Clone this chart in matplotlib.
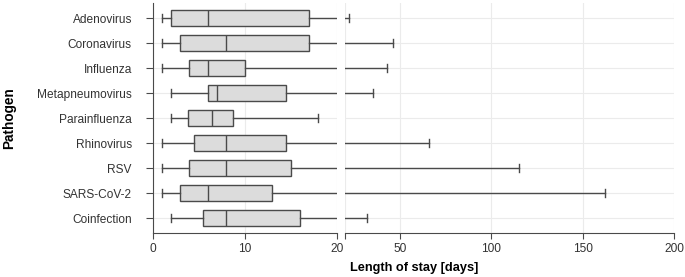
import matplotlib
matplotlib.use('Agg')
import matplotlib.pyplot as plt

plt.rcParams['font.family'] = ['Liberation Sans', 'DejaVu Sans']

# ── 데이터: 병원체별 재원일수 분포 ─────────────────────────
pathogens = ['Adenovirus', 'Coronavirus', 'Influenza', 'Metapneumovirus',
             'Parainfluenza', 'Rhinovirus', 'RSV', 'SARS-CoV-2', 'Coinfection']
whisker_lo = [1, 1, 1, 2, 2, 1, 1, 1, 2]
q1         = [2, 3, 4, 6, 3.8, 4.5, 4, 3, 5.5]
median     = [6, 8, 6, 7, 6.5, 8, 8, 6, 8]
q3         = [17, 17, 10, 14.5, 8.75, 14.5, 15, 13, 16]
whisker_hi = [22, 46, 43, 35, 18, 66, 115, 162, 32]

left_ticks  = [0, 10, 20]
right_ticks = [20, 50, 100, 150, 200]

stats = [dict(label=p, whislo=lo, q1=a, med=m, q3=b, whishi=hi)
         for p, lo, a, m, b, hi in zip(pathogens, whisker_lo, q1, median, q3, whisker_hi)]
positions = list(range(len(pathogens), 0, -1))   # 위에서부터 Adenovirus

fig = plt.figure(figsize=(6.85, 2.77), dpi=100)
ax_l = fig.add_axes([0.2229, 0.158, 0.2686, 0.831])
ax_r = fig.add_axes([0.5038, 0.158, 0.4806, 0.831])

edge = '#4a4a4a'
grid = '#ebebeb'

for ax in (ax_l, ax_r):
    ax.bxp(stats, positions=positions, orientation='horizontal',
           widths=0.64, capwidths=0.3, showfliers=False, patch_artist=True,
           boxprops=dict(facecolor='#dcdcdc', edgecolor=edge, linewidth=1.0),
           medianprops=dict(color=edge, linewidth=1.0),
           whiskerprops=dict(color=edge, linewidth=1.0),
           capprops=dict(color=edge, linewidth=1.0))
    ax.set_ylim(0.4, len(pathogens) + 0.6)
    ax.set_axisbelow(True)
    ax.grid(True, color=grid, linewidth=0.8)
    for s in ('top', 'right'):
        ax.spines[s].set_visible(False)
    ax.spines['bottom'].set_color(edge)
    ax.tick_params(axis='x', length=4, color=edge, labelsize=8.6,
                   labelcolor='#333333', pad=3)

# ── 왼쪽 패널: 0–20일 ───────────────────────────────────────────
ax_l.set_xlim(0, 20)
ax_l.set_xticks(left_ticks)
ax_l.set_yticks(positions)
ax_l.set_yticklabels(pathogens)
ax_l.spines['left'].set_color(edge)
ax_l.tick_params(axis='y', length=5, color=edge, labelsize=8.6,
                 labelcolor='#333333', pad=10)

# ── 오른쪽 패널: 20–200일 ───────────────────────────────────────
ax_r.set_xlim(20, 200)
ax_r.set_xticks(right_ticks)
ax_r.set_xticklabels([''] + [str(t) for t in right_ticks[1:]])
ax_r.set_yticks(positions)
ax_r.set_yticklabels([])
ax_r.spines['left'].set_visible(False)
ax_r.tick_params(axis='y', length=0)

# ── 축 제목 ─────────────────────────────────────────────────────
fig.text(0.013, 0.574, 'Pathogen', rotation=90, ha='center', va='center',
         fontsize=9.8, fontweight='bold')
fig.text(0.604, 0.033, 'Length of stay [days]', ha='center', va='center',
         fontsize=9.2, fontweight='bold')

fig.savefig('out.png', dpi=100)
